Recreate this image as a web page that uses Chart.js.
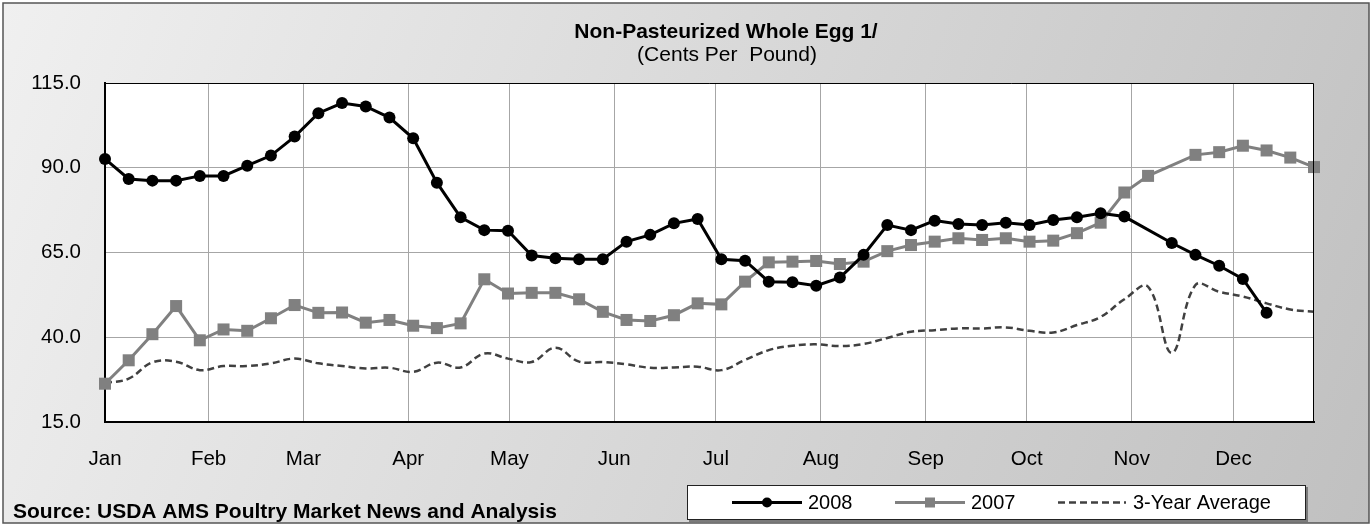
<!DOCTYPE html>
<html lang="en">
  <head>
    <meta charset="UTF-8" />
    <title>Non-Pasteurized Whole Egg</title>
    <script src="https://cdn.jsdelivr.net/npm/chart.js"></script>
    <style>
      body { margin: 0; background: #fff; }
      #wrap { width: 1372px; height: 526px; }
    </style>
  </head>

  <body>
    <div id="wrap">
      <canvas id="myChart"></canvas>
    </div>

    <script>
      // month tick labels and where they sit on the week axis
      const monthLabels = ['Jan', 'Feb', 'Mar', 'Apr', 'May', 'Jun', 'Jul', 'Aug', 'Sep', 'Oct', 'Nov', 'Dec'];
      const monthWeeks = [0, 4.37, 8.37, 12.79, 17.06, 21.48, 25.77, 30.2, 34.62, 38.88, 43.31, 47.6];

      const yTicks = [15, 40, 65, 90, 115];

      // weekly prices, cents per pound (null = no report that week)
      const values2008 = [
        92.6, 86.7, 86.2, 86.2, 87.6, 87.6, 90.6, 93.6, 99.2, 106.1, 109.1, 108.1, 104.8,
        98.7, 85.6, 75.4, 71.6, 71.4, 64.1, 63.3, 63.0, 63.0, 68.2, 70.2, 73.6, 74.9,
        63.0, 62.6, 56.4, 56.2, 55.2, 57.6, 64.3, 73.1, 71.6, 74.4, 73.4, 73.1, 73.8,
        73.1, 74.6, 75.4, 76.6, 75.6, null, 67.8, 64.3, 61.1, 57.2, 47.2
      ];
      const values2007 = [
        26.3, 33.2, 40.9, 49.2, 39.1, 42.3, 41.9, 45.6, 49.5, 47.2, 47.3, 44.3, 45.1,
        43.4, 42.7, 44.1, 57.1, 52.9, 53.1, 53.1, 51.2, 47.5, 45.1, 44.8, 46.5, 50.0,
        49.7, 56.4, 62.1, 62.3, 62.5, 61.6, 62.3, 65.4, 67.2, 68.2, 69.2, 68.7, 69.2,
        68.2, 68.5, 70.7, 73.8, 82.7, 87.6, null, 93.8, 94.6, 96.5, 95.1, 93.0, 90.2
      ];
      const avg3yr = [
        26.5, 27.8, 32.6, 32.8, 30.3, 31.5, 31.5, 32.3, 33.7, 32.3, 31.5, 30.8, 31.0,
        29.8, 32.5, 31.1, 35.2, 33.7, 32.7, 36.9, 32.8, 32.7, 32.0, 31.0, 31.1, 31.3,
        30.3, 33.3, 36.2, 37.5, 37.9, 37.4, 38.0, 39.8, 41.6, 42.1, 42.6, 42.6, 42.9,
        41.9, 41.4, 43.6, 46.0, 51.2, 54.9, 35.4, 55.4, 53.4, 52.0, 50.0, 48.2, 47.5
      ];

      const toPoints = (arr) => arr.map((v, i) => ({ x: i, y: v }));

      const FONT = 'Arial, "Liberation Sans", sans-serif';

      const frame = {
        id: 'frame',
        beforeDraw(chart) {
          const { ctx, width, height, chartArea: a } = chart;
          ctx.save();
          const g = ctx.createLinearGradient(0, 0, width, height);
          g.addColorStop(0, '#f0f0f0');
          g.addColorStop(1, '#c0c0c0');
          ctx.fillStyle = g;
          ctx.fillRect(3, 3, width - 6, height - 6);
          ctx.strokeStyle = '#555';
          ctx.lineWidth = 1.5;
          ctx.strokeRect(3, 3, width - 6, height - 6);
          ctx.fillStyle = '#fff';
          ctx.fillRect(a.left, a.top, a.right - a.left, a.bottom - a.top);
          ctx.restore();
        },
        afterDraw(chart) {
          const { ctx, chartArea: a } = chart;
          ctx.save();
          // top / right edge of plot
          ctx.strokeStyle = '#000';
          ctx.lineWidth = 1;
          ctx.beginPath();
          ctx.moveTo(a.left, a.top + 0.5);
          ctx.lineTo(a.right - 0.5, a.top + 0.5);
          ctx.lineTo(a.right - 0.5, a.bottom);
          ctx.stroke();

          // titles
          ctx.fillStyle = '#000';
          ctx.textAlign = 'center';
          ctx.textBaseline = 'middle';
          ctx.font = 'bold 21px ' + FONT;
          ctx.fillText('Non-Pasteurized Whole Egg 1/', 726, 32);
          ctx.font = '21px ' + FONT;
          ctx.fillText('(Cents Per  Pound)', 727, 55);

          // source note
          ctx.textAlign = 'left';
          ctx.font = 'bold 21px ' + FONT;
          ctx.fillText('Source: USDA AMS Poultry Market News and Analysis', 13, 512);

          // legend
          const lx = 687, ly = 485, lw = 619, lh = 35;
          ctx.fillStyle = '#7a7a7a';
          ctx.fillRect(lx + 2, ly + 2, lw, lh);
          ctx.fillStyle = '#fff';
          ctx.fillRect(lx, ly, lw, lh);
          ctx.strokeStyle = '#222';
          ctx.lineWidth = 1;
          ctx.strokeRect(lx + 0.5, ly + 0.5, lw - 1, lh - 1);

          const cy = ly + 17.5;
          const ds = chart.data.datasets;
          const items = [
            { ds: ds[0], x0: 732, x1: 802, tx: 808 },
            { ds: ds[1], x0: 895, x1: 965, tx: 971 },
            { ds: ds[2], x0: 1058, x1: 1126, tx: 1133 }
          ];
          items.forEach((it) => {
            ctx.save();
            ctx.strokeStyle = it.ds.borderColor;
            ctx.lineWidth = it.ds.borderWidth;
            ctx.setLineDash(it.ds.borderDash || []);
            ctx.beginPath();
            ctx.moveTo(it.x0, cy);
            ctx.lineTo(it.x1, cy);
            ctx.stroke();
            ctx.restore();
            const mx = (it.x0 + it.x1) / 2;
            ctx.fillStyle = it.ds.pointBackgroundColor;
            if (it.ds.pointStyle === 'circle') {
              ctx.beginPath();
              ctx.arc(mx, cy, 5, 0, Math.PI * 2);
              ctx.fill();
            } else if (it.ds.pointStyle === 'rect') {
              ctx.fillRect(mx - 5, cy - 5, 10, 10);
            }
            ctx.fillStyle = '#000';
            ctx.font = '20px ' + FONT;
            ctx.textBaseline = 'middle';
            ctx.fillText(it.ds.label, it.tx, cy + 1);
          });
          ctx.restore();
        }
      };

      document.addEventListener('DOMContentLoaded', function () {
        const ctx = document.getElementById('myChart').getContext('2d');

        new Chart(ctx, {
          type: 'line',
          plugins: [frame],
          data: {
            datasets: [
              {
                label: '2008',
                data: toPoints(values2008),
                borderColor: '#000',
                borderWidth: 3,
                pointStyle: 'circle',
                pointRadius: 6,
                pointBackgroundColor: '#000',
                pointBorderWidth: 0,
                spanGaps: true,
                tension: 0,
                clip: false
              },
              {
                label: '2007',
                data: toPoints(values2007),
                borderColor: '#808080',
                borderWidth: 3,
                pointStyle: 'rect',
                pointRadius: 8.5,
                pointBackgroundColor: '#808080',
                pointBorderWidth: 0,
                spanGaps: true,
                tension: 0,
                clip: false
              },
              {
                label: '3-Year Average',
                data: toPoints(avg3yr),
                borderColor: '#404040',
                borderWidth: 2.5,
                borderDash: [7, 4],
                pointRadius: 0,
                tension: 0.4,
                clip: false
              }
            ]
          },
          options: {
            responsive: true,
            maintainAspectRatio: false,
            animation: false,
            events: [],
            layout: { padding: { left: 0, right: 58, top: 83, bottom: 0 } },
            plugins: {
              legend: { display: false },
              title: { display: false },
              tooltip: { enabled: false }
            },
            scales: {
              x: {
                type: 'linear',
                min: 0,
                max: 51,
                afterFit: (scale) => { scale.height = 104; },
                afterBuildTicks: (scale) => {
                  scale.ticks = monthWeeks.map((v) => ({ value: v }));
                },
                grid: { color: '#a6a6a6', lineWidth: 1, drawTicks: false },
                border: { color: '#000', width: 2 },
                ticks: {
                  autoSkip: false,
                  maxRotation: 0,
                  padding: 25,
                  color: '#000',
                  font: { family: FONT, size: 20.5 },
                  callback: (value, index) => monthLabels[index]
                }
              },
              y: {
                min: 15,
                max: 115,
                afterFit: (scale) => { scale.width = 105; },
                afterBuildTicks: (scale) => {
                  scale.ticks = yTicks.map((v) => ({ value: v }));
                },
                grid: { color: '#a6a6a6', lineWidth: 1, drawTicks: false },
                border: { color: '#000', width: 2 },
                ticks: {
                  padding: 24,
                  color: '#000',
                  font: { family: FONT, size: 20.5 },
                  callback: (value) => value.toFixed(1)
                }
              }
            }
          }
        });
      });
    </script>
  </body>
</html>
